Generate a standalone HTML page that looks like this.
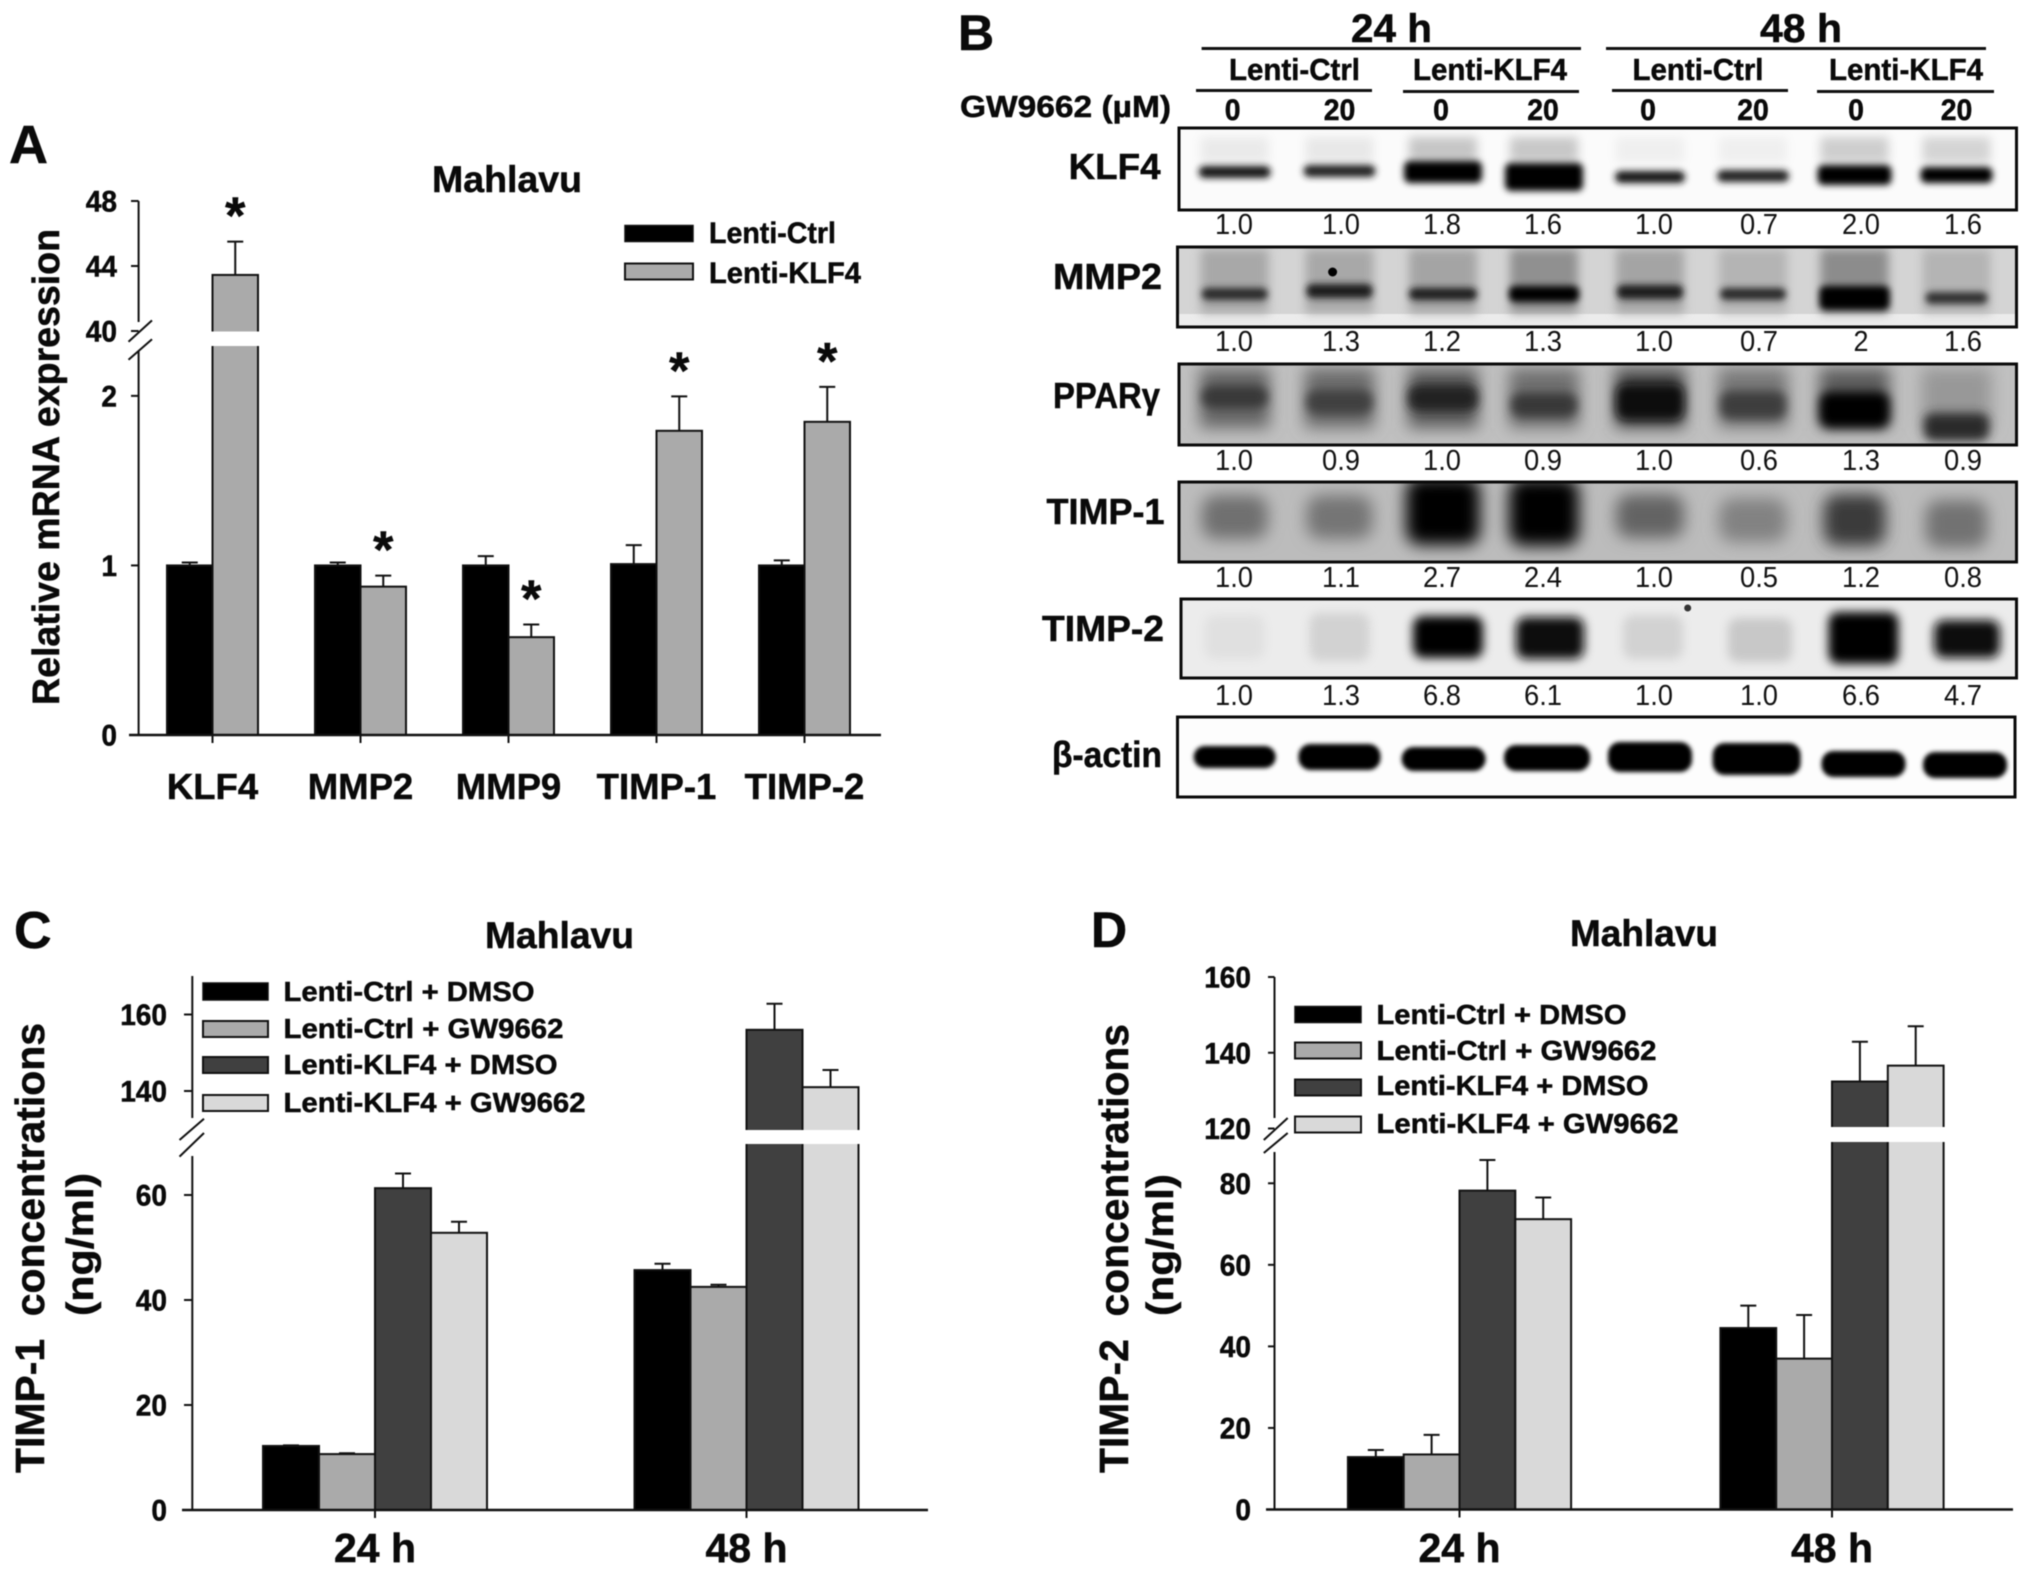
<!DOCTYPE html>
<html lang="en">
<head>
<meta charset="utf-8">
<title>KLF4 expression and TIMP concentrations in Mahlavu cells</title>
<style>
html,body{margin:0;padding:0;background:#fff;}
svg{display:block;font-family:"Liberation Sans","Noto Sans CJK SC",sans-serif;filter:blur(0.5px);}
.b{font-weight:bold;fill:#0a0a0a;stroke:#0a0a0a;stroke-width:0.5px;}
</style>
</head>
<body>
<svg id="figure" xmlns="http://www.w3.org/2000/svg" width="2031" height="1572" viewBox="0 0 2031 1572">
  <defs>
    <filter id="blur2" x="-40%" y="-80%" width="180%" height="260%"><feGaussianBlur stdDeviation="2"/></filter>
    <filter id="blur3" x="-40%" y="-80%" width="180%" height="260%"><feGaussianBlur stdDeviation="3.5"/></filter>
    <filter id="blur5" x="-50%" y="-80%" width="200%" height="260%"><feGaussianBlur stdDeviation="5"/></filter>
    <filter id="blur8" x="-60%" y="-80%" width="220%" height="260%"><feGaussianBlur stdDeviation="8"/></filter>
  </defs>

  <!-- Panel A static text -->
  <g>
    <text class="b" x="9" y="163" font-size="54">A</text>
    <text class="b" x="432" y="192" font-size="37" textLength="150" lengthAdjust="spacingAndGlyphs">Mahlavu</text>
    <text class="b" transform="translate(59,705) rotate(-90)" font-size="38" textLength="476" lengthAdjust="spacingAndGlyphs">Relative mRNA expression</text>
    <g>
      <rect x="625" y="225.5" width="68" height="16" fill="#000" stroke="#111" stroke-width="1.5"/>
      <rect x="625" y="263.5" width="68" height="16" fill="#aaa" stroke="#111" stroke-width="2"/>
      <text class="b" x="709" y="243" font-size="30" textLength="127" lengthAdjust="spacingAndGlyphs">Lenti-Ctrl</text>
      <text class="b" x="709" y="283" font-size="30" textLength="152" lengthAdjust="spacingAndGlyphs">Lenti-KLF4</text>
    </g>
  </g>

  <!-- Panel C static text -->
  <g>
    <text class="b" x="14" y="948" font-size="52">C</text>
    <text class="b" x="485" y="948" font-size="37" textLength="149" lengthAdjust="spacingAndGlyphs">Mahlavu</text>
    <text class="b" transform="translate(44,1473) rotate(-90)" font-size="41" textLength="450" lengthAdjust="spacingAndGlyphs">TIMP-1&#160; concentrations</text>
    <text class="b" transform="translate(93,1316) rotate(-90)" font-size="38" textLength="143" lengthAdjust="spacingAndGlyphs">(ng/ml)</text>
    <g>
      <rect x="203" y="983" width="65" height="17" fill="#000" stroke="#111" stroke-width="1.5"/>
      <rect x="203" y="1021" width="65" height="16" fill="#aaa" stroke="#111" stroke-width="2"/>
      <rect x="203" y="1057" width="65" height="16" fill="#404040" stroke="#111" stroke-width="2"/>
      <rect x="203" y="1095" width="65" height="16" fill="#d9d9d9" stroke="#111" stroke-width="2"/>
      <text class="b" x="283.5" y="1001" font-size="28" textLength="251" lengthAdjust="spacingAndGlyphs">Lenti-Ctrl + DMSO</text>
      <text class="b" x="283.5" y="1038" font-size="28" textLength="280" lengthAdjust="spacingAndGlyphs">Lenti-Ctrl + GW9662</text>
      <text class="b" x="283.5" y="1074" font-size="28" textLength="274" lengthAdjust="spacingAndGlyphs">Lenti-KLF4 + DMSO</text>
      <text class="b" x="283.5" y="1112" font-size="28" textLength="302" lengthAdjust="spacingAndGlyphs">Lenti-KLF4 + GW9662</text>
    </g>
  </g>

  <!-- Panel D static text -->
  <g>
    <text class="b" x="1091" y="947" font-size="50">D</text>
    <text class="b" x="1570" y="946" font-size="37" textLength="148" lengthAdjust="spacingAndGlyphs">Mahlavu</text>
    <text class="b" transform="translate(1128,1473) rotate(-90)" font-size="41" textLength="449" lengthAdjust="spacingAndGlyphs">TIMP-2&#160; concentrations</text>
    <text class="b" transform="translate(1173,1316) rotate(-90)" font-size="38" textLength="142" lengthAdjust="spacingAndGlyphs">(ng/ml)</text>
    <g>
      <rect x="1295" y="1006.5" width="66" height="16" fill="#000" stroke="#111" stroke-width="1.5"/>
      <rect x="1295" y="1042.5" width="66" height="16" fill="#aaa" stroke="#111" stroke-width="2"/>
      <rect x="1295" y="1079.5" width="66" height="16" fill="#404040" stroke="#111" stroke-width="2"/>
      <rect x="1295" y="1116.5" width="66" height="16" fill="#d9d9d9" stroke="#111" stroke-width="2"/>
      <text class="b" x="1376.5" y="1024" font-size="28" textLength="250" lengthAdjust="spacingAndGlyphs">Lenti-Ctrl + DMSO</text>
      <text class="b" x="1376.5" y="1060" font-size="28" textLength="280" lengthAdjust="spacingAndGlyphs">Lenti-Ctrl + GW9662</text>
      <text class="b" x="1376.5" y="1095" font-size="28" textLength="272" lengthAdjust="spacingAndGlyphs">Lenti-KLF4 + DMSO</text>
      <text class="b" x="1376.5" y="1133" font-size="28" textLength="302" lengthAdjust="spacingAndGlyphs">Lenti-KLF4 + GW9662</text>
    </g>
  </g>

  <!-- Panel B header -->
  <g>
    <text class="b" x="958" y="50" font-size="50">B</text>
    <text class="b" x="1351" y="42" font-size="40" textLength="81" lengthAdjust="spacingAndGlyphs">24 h</text>
    <text class="b" x="1760" y="42" font-size="40" textLength="82" lengthAdjust="spacingAndGlyphs">48 h</text>
    <line x1="1201.6" x2="1581" y1="48.5" y2="48.5" stroke="#111" stroke-width="3"/>
    <line x1="1606" x2="1986" y1="48.5" y2="48.5" stroke="#111" stroke-width="3"/>
    <text class="b" x="1229" y="80" font-size="31" textLength="131" lengthAdjust="spacingAndGlyphs">Lenti-Ctrl</text>
    <text class="b" x="1413" y="80" font-size="31" textLength="154" lengthAdjust="spacingAndGlyphs">Lenti-KLF4</text>
    <text class="b" x="1632.5" y="80" font-size="31" textLength="131" lengthAdjust="spacingAndGlyphs">Lenti-Ctrl</text>
    <text class="b" x="1829" y="80" font-size="31" textLength="154" lengthAdjust="spacingAndGlyphs">Lenti-KLF4</text>
    <line x1="1196" x2="1372" y1="90.5" y2="90.5" stroke="#111" stroke-width="3"/>
    <line x1="1403" x2="1579" y1="91.5" y2="91.5" stroke="#111" stroke-width="3"/>
    <line x1="1612" x2="1788" y1="90.5" y2="90.5" stroke="#111" stroke-width="3"/>
    <line x1="1817" x2="1994" y1="91.5" y2="91.5" stroke="#111" stroke-width="3"/>
    <text class="b" x="960" y="117" font-size="31" textLength="211" lengthAdjust="spacingAndGlyphs">GW9662 (µM)</text>
  </g>
  <g id="blots"></g>
  <g id="chartA"></g>
  <g id="chartC"></g>
  <g id="chartD"></g>
</svg>

<script>
// ---- Panel A data ----
const aCategories = ['KLF4', 'MMP2', 'MMP9', 'TIMP-1', 'TIMP-2'];
const aCtrlValues = [1, 1, 1, 1.008, 1];
const aCtrlErrorTops = [1.017, 1.017, 1.055, 1.12, 1.03];
const aKlfValues = [43.45, 0.875, 0.577, 1.794, 1.847];
const aKlfErrorTops = [45.5, 0.94, 0.652, 1.997, 2.053];
const aLowTicks = [0, 1, 2];
const aHighTicks = [40, 44, 48];

// ---- Panel C data ----
const timeCategories = ['24 h', '48 h'];
const cCtrlDmso = [12.2, 45.7];
const cCtrlDmsoErr = [12.3, 46.9];
const cCtrlGw = [10.65, 42.5];
const cCtrlGwErr = [10.8, 42.9];
const cKlfDmso = [61.3, 156];
const cKlfDmsoErr = [64.1, 162.8];
const cKlfGw = [52.8, 141];
const cKlfGwErr = [54.9, 145.5];
const cLowTicks = [0, 20, 40, 60];
const cHighTicks = [140, 160];

// ---- Panel D data ----
const dCtrlDmso = [12.86, 44.5];
const dCtrlDmsoErr = [14.6, 50];
const dCtrlGw = [13.5, 37];
const dCtrlGwErr = [18.3, 47.7];
const dKlfDmso = [78.2, 132.4];
const dKlfDmsoErr = [85.7, 142.9];
const dKlfGw = [71.2, 136.6];
const dKlfGwErr = [76.5, 147];
const dLowTicks = [0, 20, 40, 60, 80];
const dHighTicks = [120, 140, 160];

// ---- Panel B data ----
const blotRows = ['KLF4', 'MMP2', 'PPARγ', 'TIMP-1', 'TIMP-2', 'β-actin'];
const doseLabels = ['0', '20', '0', '20', '0', '20', '0', '20'];
const klf4Ratios = ['1.0', '1.0', '1.8', '1.6', '1.0', '0.7', '2.0', '1.6'];
const mmp2Ratios = ['1.0', '1.3', '1.2', '1.3', '1.0', '0.7', '2', '1.6'];
const pparRatios = ['1.0', '0.9', '1.0', '0.9', '1.0', '0.6', '1.3', '0.9'];
const timp1Ratios = ['1.0', '1.1', '2.7', '2.4', '1.0', '0.5', '1.2', '0.8'];
const timp2Ratios = ['1.0', '1.3', '6.8', '6.1', '1.0', '1.0', '6.6', '4.7'];

const NS = 'http://www.w3.org/2000/svg';
function mk(parent, tag, attrs, text) {
  const n = document.createElementNS(NS, tag);
  for (const k in attrs) n.setAttribute(k, attrs[k]);
  if (text !== undefined) n.textContent = text;
  parent.appendChild(n);
  return n;
}
function slug(s) {
  return String(s).toLowerCase().replace(/[^a-z0-9]+/g, '-');
}
function makeScale(cfg) {
  return function (v) {
    const s = v > cfg.low.d1 ? cfg.high : cfg.low;
    return s.r0 + (v - s.d0) * (s.r1 - s.r0) / (s.d1 - s.d0);
  };
}

function drawAxes(g, cfg, y, lowTicks, highTicks) {
  const upper = mk(g, 'line', {x1: cfg.axisX, x2: cfg.axisX, y1: cfg.axisTop, y2: cfg.upperEnd, stroke: '#111', 'stroke-width': 2});
  
  
  const lower = mk(g, 'line', {x1: cfg.axisX, x2: cfg.axisX, y1: cfg.lowerStart, y2: cfg.low.r0, stroke: '#111', 'stroke-width': 2});
  
  
  cfg.slashes.forEach(function (s) {
    const b = mk(g, 'line', {x1: s[0], y1: s[1], x2: s[2], y2: s[3], stroke: '#111', 'stroke-width': 2});
    
    
  });
  const base = mk(g, 'line', {x1: cfg.baseX0, x2: cfg.baseX1, y1: cfg.low.r0, y2: cfg.low.r0, stroke: '#111', 'stroke-width': 2.4});
  
  
  lowTicks.concat(highTicks).forEach(function (t) {
    const ty = y(t);
    const tick = mk(g, 'line', {x1: cfg.tickX0, x2: cfg.axisX, y1: ty, y2: ty, stroke: '#111', 'stroke-width': 2});
    
    
    const label = mk(g, 'text', {x: cfg.tickLabelX, y: ty + 10.5, 'text-anchor': 'end', 'font-size': 30, 'class': 'b', textLength: String(t).length * 15.6, lengthAdjust: 'spacingAndGlyphs'}, t);
    
    
  });
}

function drawBars(g, cfg, y, categories, seriesList) {
  const n = seriesList.length;
  categories.forEach(function (cat, i) {
    const center = cfg.center0 + i * cfg.groupStep;
    seriesList.forEach(function (s, j) {
      const x = center + (j - n / 2) * cfg.barW;
      const cx = x + cfg.barW / 2;
      const top = y(s.values[i]);
      const errTop = y(s.errors[i]);
      const err = mk(g, 'path', {d: 'M' + cx + ' ' + top + 'V' + errTop + 'M' + (cx - cfg.cap) + ' ' + errTop + 'H' + (cx + cfg.cap), stroke: '#111', 'stroke-width': 2, fill: 'none'});
      
      
      const bar = mk(g, 'rect', {x: x, y: top, width: cfg.barW, height: cfg.low.r0 - top, fill: s.fill, stroke: '#111', 'stroke-width': 2});
      
      
      if (s.values[i] > cfg.low.d1) {
        const gap = mk(g, 'rect', {x: x - 3, y: cfg.gap[0], width: cfg.barW + 6, height: cfg.gap[1] - cfg.gap[0], fill: '#fff'});
        
        
      }
    });
    const tick = mk(g, 'line', {x1: center, x2: center, y1: cfg.low.r0, y2: cfg.low.r0 + 8, stroke: '#111', 'stroke-width': 2});
    
    
    const label = mk(g, 'text', {x: center, y: cfg.catLabelY, 'text-anchor': 'middle', 'font-size': cfg.catFont, 'class': 'b'}, cat);
    
    
  });
}

// ---- Panel A ----
const cfgA = {
  low: {d0: 0, d1: 2.3, r0: 735, r1: 345},
  high: {d0: 40, d1: 48, r0: 331, r1: 201},
  gap: [331.5, 346], axisX: 138.6, axisTop: 201, upperEnd: 322, lowerStart: 351,
  slashes: [[128.5, 341.7, 152, 320.4], [128.5, 359.7, 152, 339.3]],
  tickX0: 131, baseX0: 129, baseX1: 881, tickLabelX: 117,
  center0: 212.5, groupStep: 148, barW: 45.5, cap: 8, catLabelY: 799, catFont: 36.5
};
const yA = makeScale(cfgA);
const gA = document.getElementById('chartA');
drawBars(gA, cfgA, yA, aCategories, [
  {name: 'lenti-ctrl', values: aCtrlValues, errors: aCtrlErrorTops, fill: '#000'},
  {name: 'lenti-klf4', values: aKlfValues, errors: aKlfErrorTops, fill: '#aaa'}
]);
drawAxes(gA, cfgA, yA, aLowTicks, aHighTicks);
aCategories.forEach(function (cat, i) {
  const star = mk(gA, 'text', {x: cfgA.center0 + i * cfgA.groupStep + cfgA.barW / 2, y: yA(aKlfErrorTops[i]) - 35 + 27, 'text-anchor': 'middle', 'font-size': 52, 'class': 'b'}, '*');
  
  
});

// ---- Panel C ----
const cfgC = {
  low: {d0: 0, d1: 70, r0: 1510, r1: 1142.5},
  high: {d0: 140, d1: 160, r0: 1091, r1: 1014.5},
  gap: [1130, 1144], axisX: 192.3, axisTop: 976, upperEnd: 1118, lowerStart: 1156,
  slashes: [[179.5, 1140, 204, 1118.7], [179.5, 1156.6, 204, 1133]],
  tickX0: 184, baseX0: 182, baseX1: 928, tickLabelX: 167,
  center0: 375, groupStep: 371.5, barW: 56, cap: 8, catLabelY: 1562, catFont: 41
};
const yC = makeScale(cfgC);
const gC = document.getElementById('chartC');
drawBars(gC, cfgC, yC, timeCategories, [
  {name: 'ctrl-dmso', values: cCtrlDmso, errors: cCtrlDmsoErr, fill: '#000'},
  {name: 'ctrl-gw9662', values: cCtrlGw, errors: cCtrlGwErr, fill: '#aaa'},
  {name: 'klf4-dmso', values: cKlfDmso, errors: cKlfDmsoErr, fill: '#404040'},
  {name: 'klf4-gw9662', values: cKlfGw, errors: cKlfGwErr, fill: '#d9d9d9'}
]);
drawAxes(gC, cfgC, yC, cLowTicks, cHighTicks);

// ---- Panel D ----
const cfgD = {
  low: {d0: 0, d1: 90, r0: 1509.5, r1: 1142.5},
  high: {d0: 120, d1: 160, r0: 1128.5, r1: 977},
  gap: [1127, 1142], axisX: 1274.5, axisTop: 977, upperEnd: 1118, lowerStart: 1152,
  slashes: [[1263.8, 1140, 1287.7, 1118], [1263.8, 1153, 1287.7, 1133]],
  tickX0: 1268, baseX0: 1266, baseX1: 2013, tickLabelX: 1251,
  center0: 1459.5, groupStep: 372.5, barW: 55.8, cap: 8, catLabelY: 1562, catFont: 41
};
const yD = makeScale(cfgD);
const gD = document.getElementById('chartD');
drawBars(gD, cfgD, yD, timeCategories, [
  {name: 'ctrl-dmso', values: dCtrlDmso, errors: dCtrlDmsoErr, fill: '#000'},
  {name: 'ctrl-gw9662', values: dCtrlGw, errors: dCtrlGwErr, fill: '#aaa'},
  {name: 'klf4-dmso', values: dKlfDmso, errors: dKlfDmsoErr, fill: '#404040'},
  {name: 'klf4-gw9662', values: dKlfGw, errors: dKlfGwErr, fill: '#d9d9d9'}
]);
drawAxes(gD, cfgD, yD, dLowTicks, dHighTicks);

// ---- Panel B: blot appearance (drawn image-like content) ----
const laneX = [1234.7, 1339.5, 1443, 1544, 1650, 1753, 1854.5, 1956.5];
const timp2LaneX = [1234.7, 1339.5, 1448, 1550, 1653, 1760, 1863.5, 1967];
const actinLaneX = [1234.7, 1339.5, 1443.6, 1547, 1650, 1756.6, 1863.5, 1965];
const doseX = [1232.7, 1339.5, 1441, 1543, 1648, 1753, 1856, 1956.5];
const ratioX = [1234, 1341, 1442, 1543, 1654, 1759, 1861, 1963];
const blotLook = [
  {row: 'KLF4', x0: 1179, x1: 2016.5, y0: 128, y1: 210, bg: '#fbfbfb', laneXs: laneX, labelX: 1068.6, labelW: 92, labelY: 179, ratios: klf4Ratios, ratioY: 234,
   under: {cy: 150, ry: 13, rx: 34, blur: 'blur5', fill: ['#eaeaea', '#e8e8e8', '#c6c6c6', '#c8c8c8', '#efefef', '#efefef', '#cecece', '#d4d4d4']},
   band: {blur: 'blur3', radius: 6, rx: [36, 36, 39, 39, 35, 36, 37, 36], cy: [172, 171, 172, 177, 177, 176, 175, 175], ry: [6, 6, 11, 14, 6, 6, 10, 8],
          fill: ['#141414', '#222222', '#000', '#000', '#141414', '#222222', '#000', '#000']}},
  {row: 'MMP2', x0: 1177.5, x1: 2016.5, y0: 247, y1: 327, bg: '#d4d4d4', laneXs: laneX, labelX: 1053, labelW: 109, labelY: 289, ratios: mmp2Ratios, ratioY: 351,
   under: {cy: 281, ry: 32, rx: 34, blur: 'blur5', fill: ['#a8a8a8', '#a8a8a8', '#a4a4a4', '#909090', '#a4a4a4', '#b4b4b4', '#8c8c8c', '#b4b4b4']},
   band: {blur: 'blur3', radius: 6, rx: [33, 33, 34, 35, 33, 33, 35, 31], cy: [294, 291, 294, 294, 292, 294, 298, 298], ry: [6, 7, 6, 8, 7, 6, 12, 6],
          fill: ['#2c2c2c', '#1c1c1c', '#1c1c1c', '#000', '#1c1c1c', '#2c2c2c', '#000', '#303030']}},
  {row: 'PPARγ', x0: 1179, x1: 2016.5, y0: 364, y1: 445, bg: '#c0c0c0', laneXs: laneX, labelX: 1053, labelW: 107, labelY: 408, ratios: pparRatios, ratioY: 470,
   under: {cy: 398, ry: 30, rx: 35, blur: 'blur8', fill: ['#666666', '#6c6c6c', '#5c5c5c', '#707070', '#484848', '#787878', '#5c5c5c', '#989898']},
   band: {blur: 'blur5', radius: 10, rx: [33, 33, 35, 33, 34, 33, 35, 33], cy: [397, 402, 398, 405, 402, 405, 410, 427], ry: [11, 12, 13, 12, 18, 14, 18, 14],
          fill: ['#383838', '#404040', '#222222', '#383838', '#0a0a0a', '#3c3c3c', '#000', '#2a2a2a']}},
  {row: 'TIMP-1', x0: 1179, x1: 2016.5, y0: 482, y1: 562, bg: '#bcbcbc', laneXs: laneX, labelX: 1046.5, labelW: 118, labelY: 524, ratios: timp1Ratios, ratioY: 587,
   under: null,
   band: {blur: 'blur8', radius: 14, rx: [33, 33, 37, 35, 34, 34, 31, 31], cy: [517, 517, 511, 512, 516, 520, 520, 524], ry: [22, 22, 34, 34, 22, 22, 26, 24],
          fill: ['#707070', '#747474', '#000', '#000', '#646464', '#828282', '#3a3a3a', '#727272']}},
  {row: 'TIMP-2', x0: 1181, x1: 2016.5, y0: 599, y1: 678, bg: '#ececec', laneXs: timp2LaneX, labelX: 1042, labelW: 122, labelY: 641, ratios: timp2Ratios, ratioY: 705,
   under: null,
   band: {blur: 'blur5', radius: 10, rx: [30, 30, 35, 34, 30, 32, 35, 33], cy: [637, 637, 637, 638, 637, 640, 638, 639], ry: [22, 24, 21, 21, 22, 22, 26, 19],
          fill: ['#e0e0e0', '#d2d2d2', '#050505', '#0e0e0e', '#d2d2d2', '#c8c8c8', '#000', '#0a0a0a']}},
  {row: 'β-actin', x0: 1177.5, x1: 2015, y0: 717, y1: 797, bg: '#fdfdfd', laneXs: actinLaneX, labelX: 1052, labelW: 110, labelY: 767, ratios: null, ratioY: 0,
   under: null,
   band: {blur: 'blur2', radius: 12, rx: [41, 41, 42, 43, 42, 44, 42, 42], cy: [757, 757, 759, 758, 757, 759, 764, 765], ry: [11, 13, 12, 13, 15, 16, 13, 13],
          fill: ['#000', '#000', '#000', '#000', '#000', '#000', '#000', '#000']}}
];
const gB = document.getElementById('blots');
doseLabels.forEach(function (d, i) {
  const t = mk(gB, 'text', {x: doseX[i], y: 120, 'text-anchor': 'middle', 'font-size': 30, 'class': 'b', textLength: d.length * 15.8, lengthAdjust: 'spacingAndGlyphs'}, d);
  
  
});
blotLook.forEach(function (r, idx) {
  const id = 'clip' + idx;
  const cp = mk(mk(gB, 'defs', {}), 'clipPath', {id: id});
  mk(cp, 'rect', {x: r.x0, y: r.y0, width: r.x1 - r.x0, height: r.y1 - r.y0});
  const g = mk(gB, 'g', {'clip-path': 'url(#' + id + ')'});
  
  
  mk(g, 'rect', {x: r.x0, y: r.y0, width: r.x1 - r.x0, height: r.y1 - r.y0, fill: r.bg});
  if (r.row === 'MMP2') {
    mk(g, 'rect', {x: r.x0, y: 314, width: r.x1 - r.x0, height: 13, fill: '#ececec'});
  }
  r.laneXs.forEach(function (cx, i) {
    if (r.under) {
      mk(g, 'rect', {x: cx - r.under.rx, y: r.under.cy - r.under.ry, width: 2 * r.under.rx, height: 2 * r.under.ry, fill: r.under.fill[i], filter: 'url(#' + r.under.blur + ')'});
    }
    const blob = mk(g, 'rect', {x: cx - r.band.rx[i], y: r.band.cy[i] - r.band.ry[i], width: 2 * r.band.rx[i], height: 2 * r.band.ry[i], rx: Math.min(r.band.radius, r.band.ry[i]), fill: r.band.fill[i], filter: 'url(#' + r.band.blur + ')'});
    
    
  });
  if (r.row === 'MMP2') mk(g, 'circle', {cx: 1332.6, cy: 272, r: 4.5, fill: '#000'});
  if (r.row === 'TIMP-2') mk(g, 'circle', {cx: 1687.7, cy: 608, r: 3.5, fill: '#333'});
  const frame = mk(gB, 'rect', {x: r.x0, y: r.y0, width: r.x1 - r.x0, height: r.y1 - r.y0, fill: 'none', stroke: '#0a0a0a', 'stroke-width': 3});
  
  
  const name = mk(gB, 'text', {x: r.labelX, y: r.labelY, 'font-size': 36, 'class': 'b', textLength: r.labelW, lengthAdjust: 'spacingAndGlyphs'}, blotRows[idx]);
  
  
  if (r.ratios) {
    r.ratios.forEach(function (v, i) {
      const t = mk(gB, 'text', {x: ratioX[i], y: r.ratioY, 'text-anchor': 'middle', 'font-size': 29, fill: '#111', textLength: v.length === 1 ? 15 : 38, lengthAdjust: 'spacingAndGlyphs'}, v);
      
      
    });
  }
});
</script>
</body>
</html>
